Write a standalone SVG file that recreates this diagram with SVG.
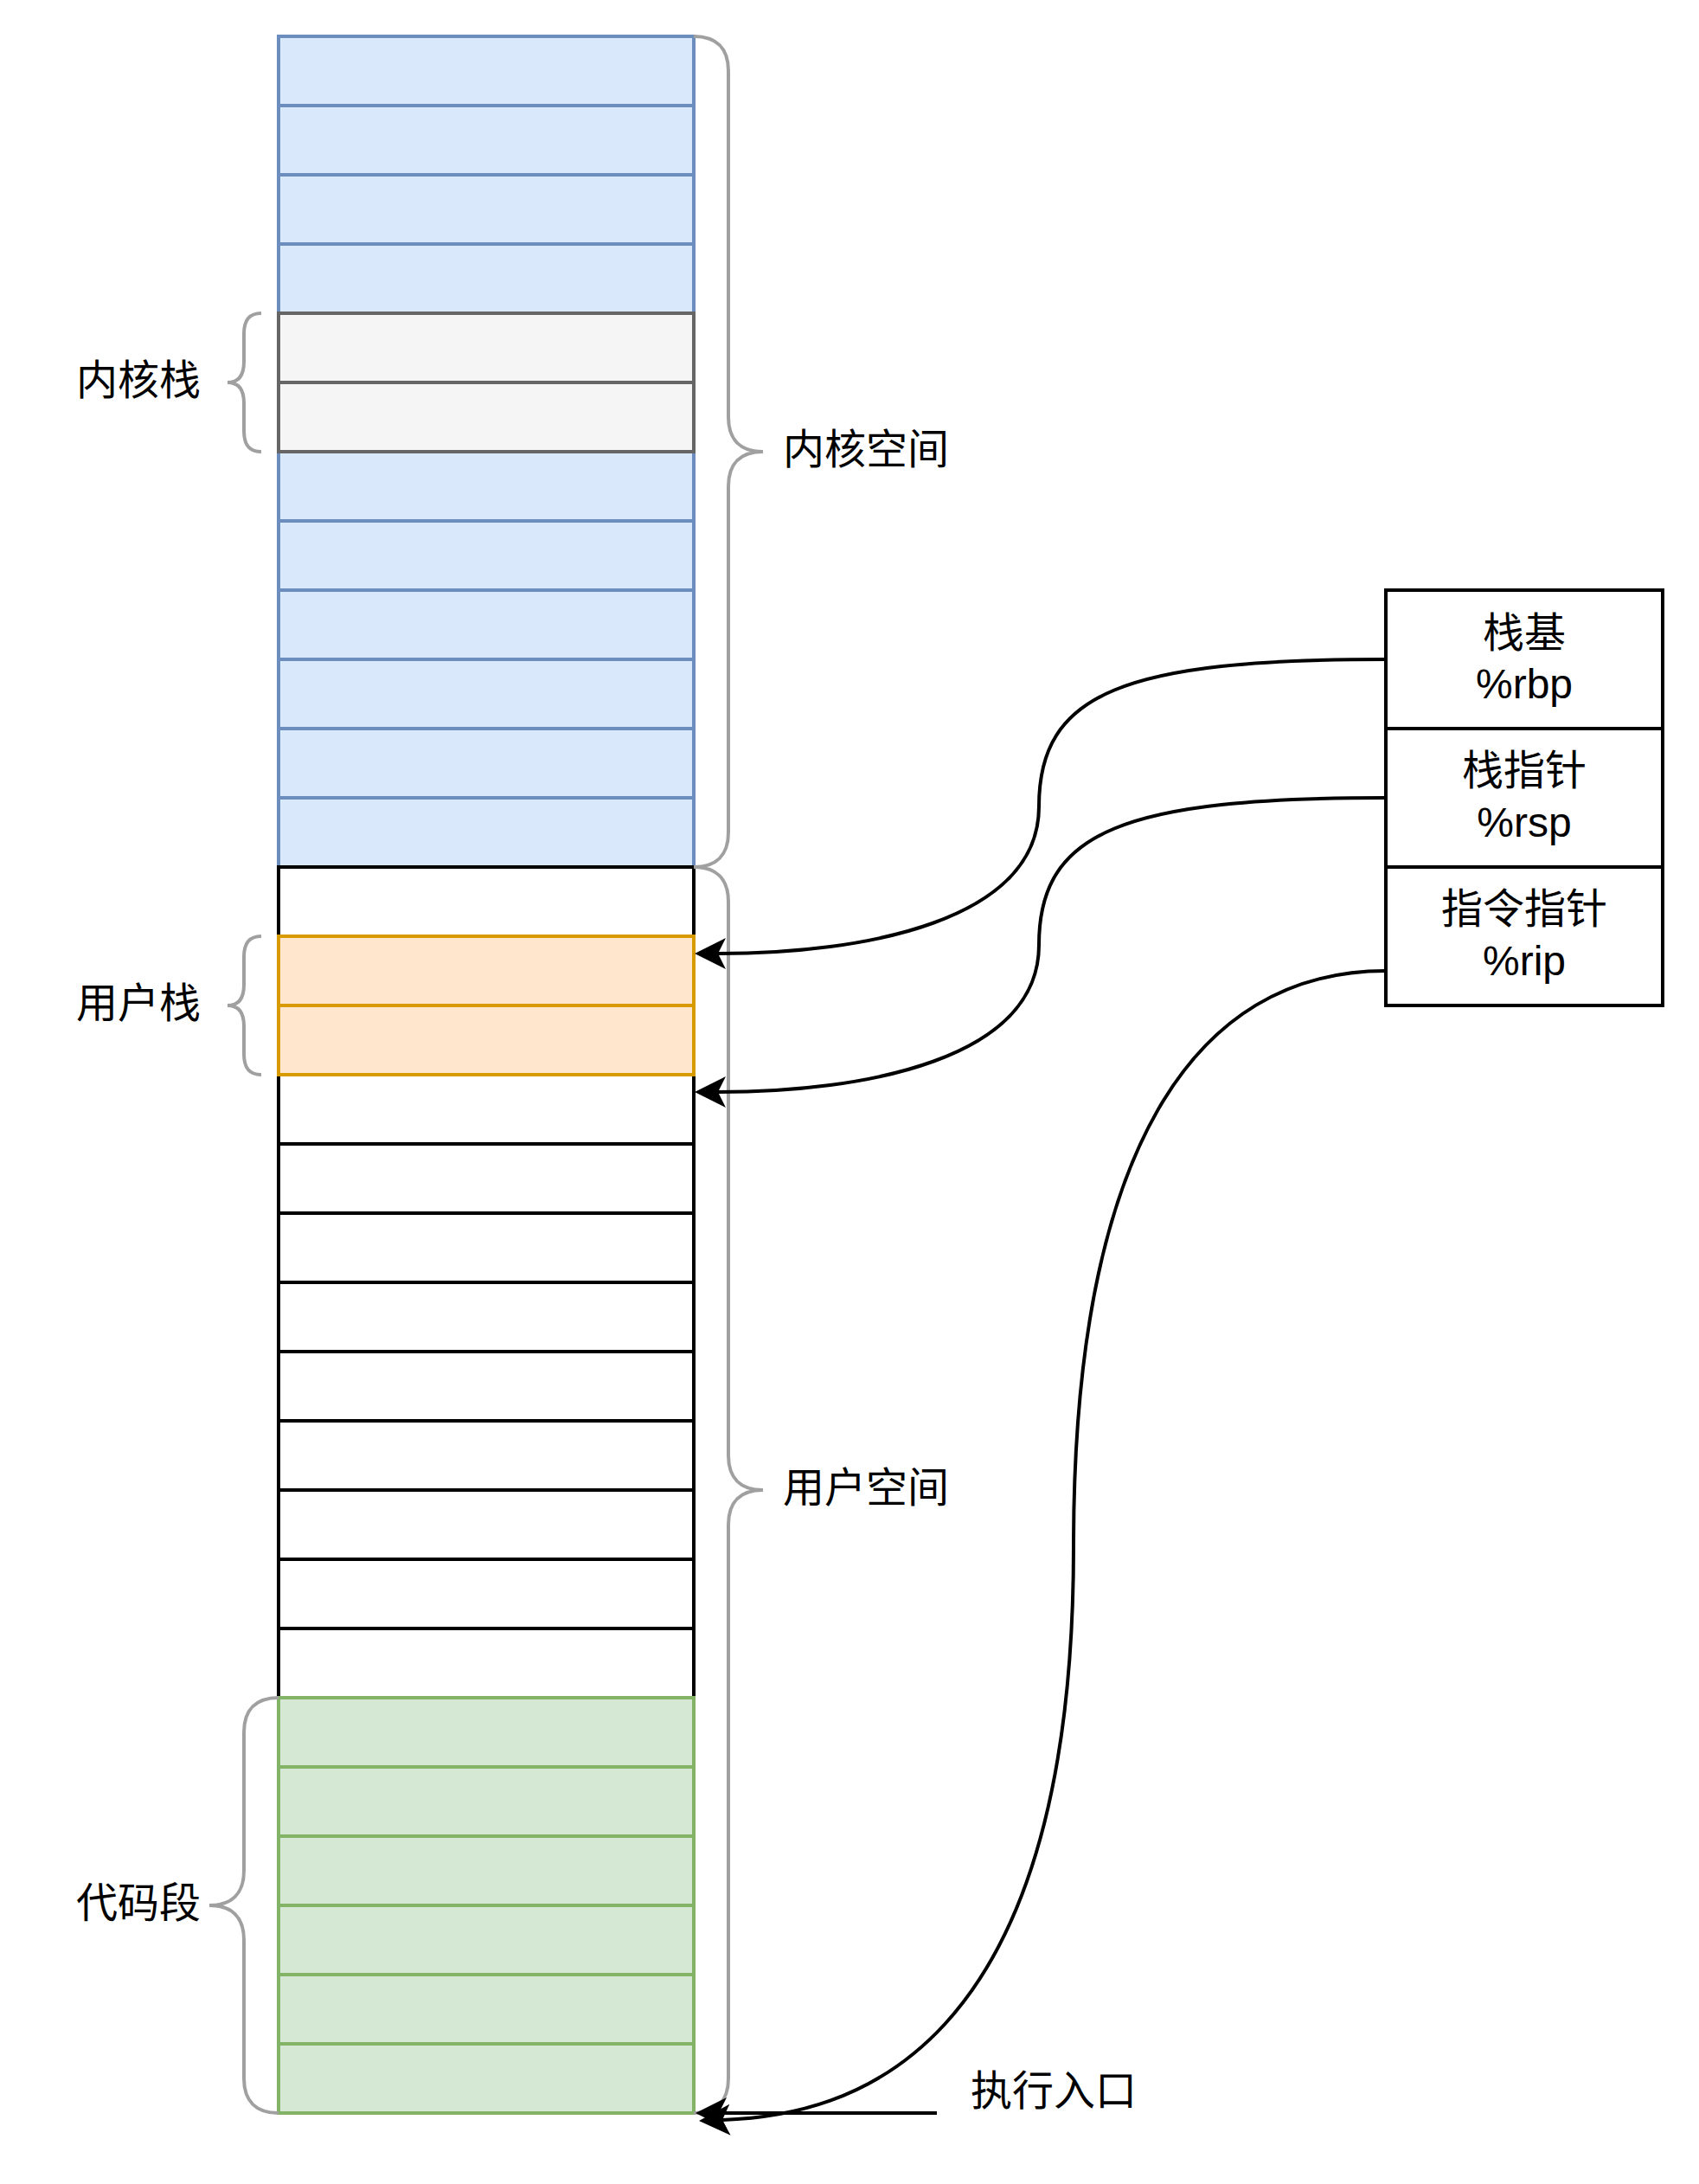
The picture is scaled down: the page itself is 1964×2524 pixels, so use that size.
<svg xmlns="http://www.w3.org/2000/svg" width="1964" height="2524" viewBox="0 0 1964 2524">
<style>
.t{font-family:"Liberation Sans","Noto Sans CJK SC",sans-serif;font-size:48px;fill:#000}
.c{text-anchor:middle}
.blue{fill:#dae8fc;stroke:#6c8ebf;stroke-width:4}
.gray{fill:#f5f5f5;stroke:#666666;stroke-width:4}
.org{fill:#ffe6cc;stroke:#d79b00;stroke-width:4}
.grn{fill:#d5e8d4;stroke:#82b366;stroke-width:4}
.wht{fill:#ffffff;stroke:#000000;stroke-width:4}
.br{fill:none;stroke:#a0a0a0;stroke-width:4}
.edge{fill:none;stroke:#000;stroke-width:4}
</style>
<defs>
<marker id="arr" viewBox="0 0 36 36" refX="9" refY="18" markerWidth="36" markerHeight="36" markerUnits="userSpaceOnUse" orient="auto">
<path d="M0,0 L36,18 L0,36 L9,18 Z" fill="#000"/>
</marker>
</defs>
<g id="kernel-rows">
<rect class="blue" x="322" y="42" width="480" height="80"/>
<rect class="blue" x="322" y="122" width="480" height="80"/>
<rect class="blue" x="322" y="202" width="480" height="80"/>
<rect class="blue" x="322" y="282" width="480" height="80"/>
<rect class="blue" x="322" y="522" width="480" height="80"/>
<rect class="blue" x="322" y="602" width="480" height="80"/>
<rect class="blue" x="322" y="682" width="480" height="80"/>
<rect class="blue" x="322" y="762" width="480" height="80"/>
<rect class="blue" x="322" y="842" width="480" height="80"/>
<rect class="blue" x="322" y="922" width="480" height="80"/>
</g>
<g id="kernel-stack">
<rect class="gray" x="322" y="362" width="480" height="80"/>
<rect class="gray" x="322" y="442" width="480" height="80"/>
</g>
<g id="user-rows">
<rect class="wht" x="322" y="1002" width="480" height="80"/>
<rect class="wht" x="322" y="1242" width="480" height="80"/>
<rect class="wht" x="322" y="1322" width="480" height="80"/>
<rect class="wht" x="322" y="1402" width="480" height="80"/>
<rect class="wht" x="322" y="1482" width="480" height="80"/>
<rect class="wht" x="322" y="1562" width="480" height="80"/>
<rect class="wht" x="322" y="1642" width="480" height="80"/>
<rect class="wht" x="322" y="1722" width="480" height="80"/>
<rect class="wht" x="322" y="1802" width="480" height="80"/>
<rect class="wht" x="322" y="1882" width="480" height="80"/>
</g>
<g id="user-stack">
<rect class="org" x="322" y="1082" width="480" height="80"/>
<rect class="org" x="322" y="1162" width="480" height="80"/>
</g>
<g id="code-segment">
<rect class="grn" x="322" y="1962" width="480" height="80"/>
<rect class="grn" x="322" y="2042" width="480" height="80"/>
<rect class="grn" x="322" y="2122" width="480" height="80"/>
<rect class="grn" x="322" y="2202" width="480" height="80"/>
<rect class="grn" x="322" y="2282" width="480" height="80"/>
<rect class="grn" x="322" y="2362" width="480" height="80"/>
</g>
<g id="brace-kernel-stack">
<path class="br" d="M302,362 C288,362 282,370 282,386 L282,418 C282,434 276,442 263,442 C276,442 282,450 282,466 L282,498 C282,514 288,522 302,522"/>
<text class="t c" x="160" y="439" dominant-baseline="central">内核栈</text>
</g>
<g id="brace-user-stack">
<path class="br" d="M302,1082 C288,1082 282,1090 282,1106 L282,1138 C282,1154 276,1162 263,1162 C276,1162 282,1170 282,1186 L282,1218 C282,1234 288,1242 302,1242"/>
<text class="t c" x="160" y="1159" dominant-baseline="central">用户栈</text>
</g>
<g id="brace-code">
<path class="br" d="M322,1962 C296,1962 282,1976 282,2002 L282,2162 C282,2188 268,2202 242,2202 C268,2202 282,2216 282,2242 L282,2402 C282,2428 296,2442 322,2442"/>
<text class="t c" x="160" y="2199" dominant-baseline="central">代码段</text>
</g>
<g id="brace-kernel-space">
<path class="br" d="M802,42 C828,42 842,56 842,82 L842,482 C842,508 856,522 882,522 C856,522 842,536 842,562 L842,962 C842,988 828,1002 802,1002"/>
<text class="t" x="905" y="519" dominant-baseline="central">内核空间</text>
</g>
<g id="brace-user-space">
<path class="br" d="M802,1002 C828,1002 842,1016 842,1042 L842,1682 C842,1708 856,1722 882,1722 C856,1722 842,1736 842,1762 L842,2402 C842,2428 828,2442 802,2442"/>
<text class="t" x="905" y="1719" dominant-baseline="central">用户空间</text>
</g>
<g id="registers">
<rect class="wht" x="1602" y="682" width="320" height="160"/>
<rect class="wht" x="1602" y="842" width="320" height="160"/>
<rect class="wht" x="1602" y="1002" width="320" height="160"/>
<text class="t c" x="1762" y="731" dominant-baseline="central">栈基</text>
<text class="t c" x="1762" y="807">%rbp</text>
<text class="t c" x="1762" y="890" dominant-baseline="central">栈指针</text>
<text class="t c" x="1762" y="967">%rsp</text>
<text class="t c" x="1762" y="1050" dominant-baseline="central">指令指针</text>
<text class="t c" x="1762" y="1127">%rip</text>
</g>
<g id="entry-label">
<text class="t" x="1122" y="2416" dominant-baseline="central">执行入口</text>
</g>
<g id="connectors">
<path class="edge" marker-end="url(#arr)" d="M1602,762 C1300,762 1201,800 1201,932 C1201,1064 1000,1102 830,1102"/>
<path class="edge" marker-end="url(#arr)" d="M1602,922 C1300,922 1201,960 1201,1092 C1201,1224 1000,1262 830,1262"/>
<path class="edge" marker-end="url(#arr)" d="M1602,1122 C1380,1122 1241,1330 1241,1787 C1241,2380 980,2445 835,2450"/>
<path class="edge" marker-end="url(#arr)" d="M1083,2442 L831,2442"/>
</g>
</svg>
